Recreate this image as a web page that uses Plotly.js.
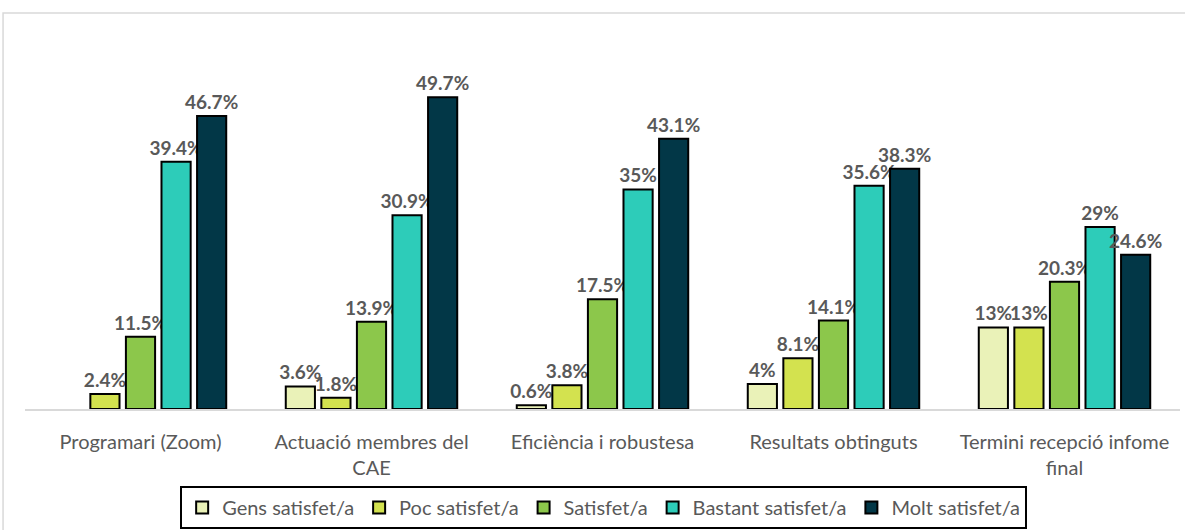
<!DOCTYPE html>
<html>
<head>
<meta charset="utf-8">
<script src="https://cdn.plot.ly/plotly-3.0.1.min.js"></script>
<style>html,body{margin:0;padding:0;background:#fff;}#chart{width:1185px;height:530px;}</style>
</head>
<body>
<div id="chart"></div>
<script>
const categories = ["Programari (Zoom)", "Actuació membres del<br>CAE", "Eficiència i robustesa", "Resultats obtinguts", "Termini recepció infome<br>final"];
const seriesNames = ["Gens satisfet/a", "Poc satisfet/a", "Satisfet/a", "Bastant satisfet/a", "Molt satisfet/a"];
const gens = [null, 3.6, 0.6, 4, 13];
const poc = [2.4, 1.8, 3.8, 8.1, 13];
const satisfet = [11.5, 13.9, 17.5, 14.1, 20.3];
const bastant = [39.4, 30.9, 35, 35.6, 29];
const molt = [46.7, 49.7, 43.1, 38.3, 24.6];
const colors = ["#eaf2b8", "#d3e24f", "#8cc74b", "#2dccb9", "#023747"];

const seriesValues = [gens, poc, satisfet, bastant, molt];
const font = "Lato, 'Open Sans', sans-serif";
const traces = seriesValues.map((vals, i) => ({
  type: "bar",
  name: seriesNames[i],
  x: categories,
  y: vals,
  marker: {color: colors[i], line: {color: "#000000", width: 2}},
  texttemplate: "%{y}%",
  textposition: "outside",
  cliponaxis: false,
  constraintext: "none",
  textfont: {family: font, size: 19, color: "#595959", weight: "bold"},
  hoverinfo: "skip"
}));

const layout = {
  width: 1185, height: 530,
  margin: {l: 25, r: 5, t: 64, b: 121, autoexpand: false},
  paper_bgcolor: "#ffffff", plot_bgcolor: "#ffffff",
  barmode: "group", bargap: 0.23, bargroupgap: 0.18,
  showlegend: true,
  xaxis: {
    automargin: false,
    tickfont: {family: font, size: 20, color: "#595959"},
    ticklabelstandoff: 14,
    showline: true, linecolor: "#d9d9d9", linewidth: 1.5,
    ticks: "", showgrid: false, fixedrange: true
  },
  yaxis: {automargin: false, range: [0, 55], visible: false, showgrid: false, zeroline: false, fixedrange: true},
  legend: {
    orientation: "h", x: 0.501, xanchor: "center", y: -0.2232, yanchor: "top",
    bordercolor: "#000000", borderwidth: 2, bgcolor: "#ffffff",
    font: {family: font, size: 20, color: "#595959"},
    itemclick: false, itemdoubleclick: false
  },
  shapes: [{
    type: "rect", xref: "paper", yref: "paper",
    x0: -0.019, x1: 1.05, y0: -0.5, y1: 1.148,
    line: {color: "#d9d9d9", width: 1.5}, fillcolor: "rgba(0,0,0,0)"
  }]
};

Plotly.newPlot("chart", traces, layout, {displayModeBar: false, staticPlot: true});
</script>
</body>
</html>
